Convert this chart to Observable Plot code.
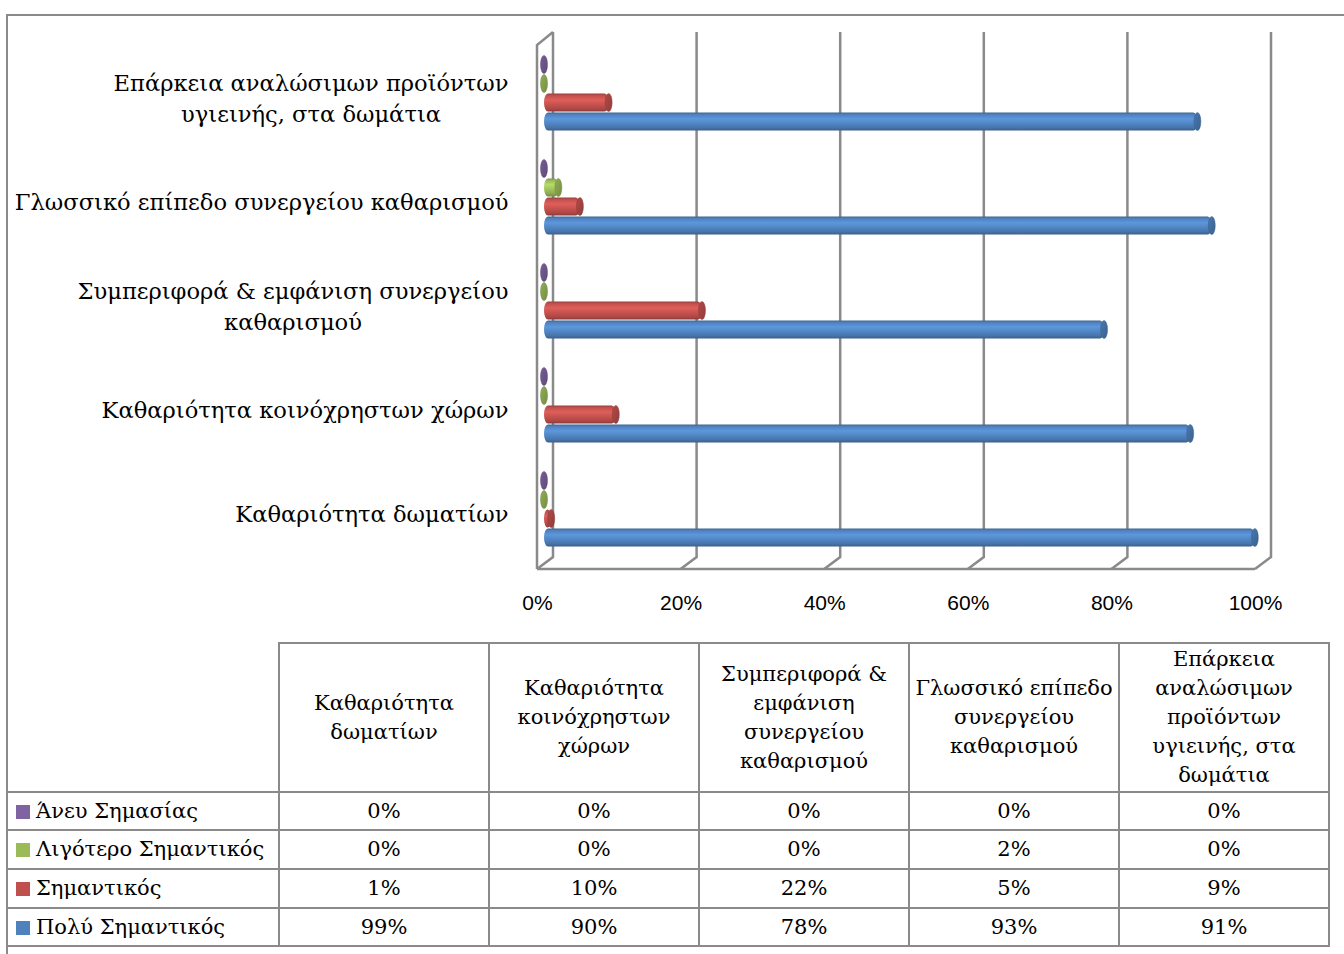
<!DOCTYPE html>
<html>
<head>
<meta charset="utf-8">
<script src="https://cdn.jsdelivr.net/npm/d3@7"></script>
<script src="https://cdn.jsdelivr.net/npm/@observablehq/plot@0.6"></script>
<style>
  html, body { margin: 0; padding: 0; background: #fff; width: 1344px; height: 954px; overflow: hidden; }
  #page { position: relative; width: 1344px; height: 954px; }
  #frame { position: absolute; left: 6px; top: 14px; width: 1400px; height: 1000px; border: 2px solid #8a8a8a; box-sizing: border-box; }
  #chart { position: absolute; left: 0; top: 0; }
  #table { position: absolute; left: 6px; top: 642px; border-collapse: collapse; table-layout: fixed;
           font-family: "DejaVu Serif", serif; font-size: 21px; color: #000; }
  #table td { border: 2px solid #8a8a8a; text-align: center; padding: 0; line-height: 29px; white-space: pre-line; }
  #table td.corner { border-top: none; }
  #table td.legend { text-align: left; padding-left: 8px; white-space: nowrap; }
  #table .key { display: inline-block; width: 14px; height: 14px; margin-right: 6px; vertical-align: -1px; }
  #table tr.head { height: 149px; }
</style>
</head>
<body>
<div id="page">
  <div id="frame"></div>
  <div id="chart"></div>
  <table id="table"><colgroup>
    <col style="width:272px"><col style="width:210px"><col style="width:210px"><col style="width:210px"><col style="width:210px"><col style="width:210px">
  </colgroup><tbody></tbody></table>
</div>
<script>
// Survey categories (table order, left to right)
const categories = [
  "Καθαριότητα δωματίων",
  "Καθαριότητα κοινόχρηστων χώρων",
  "Συμπεριφορά & εμφάνιση συνεργείου καθαρισμού",
  "Γλωσσικό επίπεδο συνεργείου καθαρισμού",
  "Επάρκεια αναλώσιμων προϊόντων υγιεινής, στα δωμάτια"
];
// Category labels as wrapped beside the bars
const axisLabels = [
  "Καθαριότητα δωματίων",
  "Καθαριότητα κοινόχρηστων χώρων",
  "Συμπεριφορά & εμφάνιση συνεργείου\nκαθαρισμού",
  "Γλωσσικό επίπεδο συνεργείου καθαρισμού",
  "Επάρκεια αναλώσιμων προϊόντων\nυγιεινής, στα δωμάτια"
];
// Category labels as wrapped in the table header
const headerLabels = [
  "Καθαριότητα\nδωματίων",
  "Καθαριότητα\nκοινόχρηστων\nχώρων",
  "Συμπεριφορά &\nεμφάνιση\nσυνεργείου\nκαθαρισμού",
  "Γλωσσικό επίπεδο\nσυνεργείου\nκαθαρισμού",
  "Επάρκεια\nαναλώσιμων\nπροϊόντων\nυγιεινής, στα\nδωμάτια"
];
const seriesNames = ["Άνευ Σημασίας", "Λιγότερο Σημαντικός", "Σημαντικός", "Πολύ Σημαντικός"];
const seriesColors = ["#8064A2", "#9BBB59", "#C0504D", "#4F81BD"];
// Percent of answers per category
const anevSimasias       = [0, 0, 0, 0, 0];
const ligoteroSimantikos = [0, 0, 0, 2, 0];
const simantikos         = [1, 10, 22, 5, 9];
const polySimantikos     = [99, 90, 78, 93, 91];
const xTicks = [0, 20, 40, 60, 80, 100];

const seriesValues = [anevSimasias, ligoteroSimantikos, simantikos, polySimantikos];

const W = 1344, H = 630;
const marginLeft = 544, marginRight = 82, marginTop = 39, marginBottom = 67;
const depthBack = 9, depthFront = 7;        // 3D offsets of back wall / front edge
const barH = 19;
const labelRight = 508;
const labelFont = "DejaVu Serif";
const labelSize = 22.6;
const rowHeights = [38, 39, 39, 38];

// measure wrapped labels so each block is centred and right-aligned to the axis
const ctx = document.createElement("canvas").getContext("2d");
ctx.font = `${labelSize}px "${labelFont}"`;
const xPx = d3.scaleLinear([0, 100], [marginLeft, W - marginRight]);
const labelRows = categories.map((c, i) => {
  const w = d3.max(axisLabels[i].split("\n"), s => ctx.measureText(s).width);
  return {category: c, label: axisLabels[i], x: xPx.invert(labelRight - w / 2)};
});

const bandStep = (H - marginTop - marginBottom) / categories.length;
const inset = (bandStep - barH) / 2;

const marks = [];

// back wall gridlines, floor diagonals, floor front edge and left wall
marks.push((index, {x}, values, dims) => {
  const top = dims.marginTop - 7;
  const backBottom = dims.height - dims.marginBottom - 6;
  const frontBottom = backBottom + 12;
  const g = d3.create("svg:g")
    .attr("fill", "none").attr("stroke", "#8a8a8a").attr("stroke-width", 2.5)
    .attr("stroke-linejoin", "miter");
  for (const t of xTicks) {
    g.append("path").attr("d", `M${x(t) + depthBack},${top}V${backBottom}L${x(t) - depthFront},${frontBottom}`);
  }
  g.append("path").attr("d", `M${x(0) - depthFront},${frontBottom}H${x(100) - depthFront}`);
  g.append("path").attr("d", `M${x(0) + depthBack},${top}L${x(0) - depthFront},${top + 13}V${frontBottom}`);
  return g.node();
});

seriesNames.forEach((name, i) => {
  const rows = categories.map((c, j) => ({category: c, value: seriesValues[i][j]}));
  const dy = (i - 1.5) * barH;
  marks.push(Plot.barX(rows, {
    y: "category", x1: 0, x2: "value", dy,
    insetTop: inset, insetBottom: inset, rx: 4, ry: barH / 2,
    fill: `url(#cyl${i})`
  }));
  marks.push(Plot.barX(rows, {
    y: "category", x1: "value", x2: "value", dy,
    insetLeft: -3.5, insetRight: -3.5, insetTop: inset, insetBottom: inset,
    rx: 3.5, ry: barH / 2,
    fill: `url(#cap${i})`, stroke: d3.color(seriesColors[i]).darker(0.9).formatHex(), strokeWidth: 0.8, strokeOpacity: 0.6
  }));
});

marks.push(Plot.text(labelRows, {
  y: "category", x: "x", text: "label",
  textAnchor: "middle", lineAnchor: "middle", lineHeight: 1.37, dy: 3,
  fontFamily: labelFont, fontSize: labelSize, fill: "#000"
}));

marks.push(Plot.axisX({
  ticks: xTicks, tickFormat: d => d + "%", tickSize: 0, tickPadding: 32, dx: -depthFront,
  fontSize: 21, fontFamily: "Liberation Sans", fill: "#000"
}));

const svg = Plot.plot({
  width: W, height: H,
  marginLeft, marginRight, marginTop, marginBottom,
  style: {background: "transparent", overflow: "visible"},
  x: {domain: [0, 100]},
  y: {domain: categories.slice().reverse(), padding: 0, axis: null},
  marks
});

// cylinder shading
const defs = d3.select(svg).insert("defs", ":first-child");
seriesColors.forEach((c, i) => {
  const base = d3.color(c);
  const stops = [
    [0, base.darker(0.7)], [0.12, base], [0.35, base.brighter(0.45)],
    [0.6, base.brighter(0.1)], [0.85, base.darker(0.3)], [1, base.darker(0.9)]
  ];
  const g = defs.append("linearGradient").attr("id", `cyl${i}`).attr("x1", 0).attr("y1", 0).attr("x2", 0).attr("y2", 1);
  for (const [o, col] of stops) g.append("stop").attr("offset", o).attr("stop-color", col.formatHex());
  const cap = defs.append("linearGradient").attr("id", `cap${i}`).attr("x1", 0).attr("y1", 0).attr("x2", 1).attr("y2", 1);
  cap.append("stop").attr("offset", 0).attr("stop-color", base.darker(0.2).formatHex());
  cap.append("stop").attr("offset", 1).attr("stop-color", base.darker(0.8).formatHex());
});

document.getElementById("chart").appendChild(svg);

// data table with legend keys
const tbody = document.querySelector("#table tbody");
const head = tbody.insertRow();
head.className = "head";
head.insertCell().className = "corner";
headerLabels.forEach(h => { head.insertCell().textContent = h; });
seriesNames.forEach((name, i) => {
  const r = tbody.insertRow();
  r.style.height = rowHeights[i] + "px";
  const c = r.insertCell();
  c.className = "legend";
  const key = document.createElement("span");
  key.className = "key";
  key.style.background = seriesColors[i];
  c.appendChild(key);
  c.appendChild(document.createTextNode(name));
  seriesValues[i].forEach(v => { r.insertCell().textContent = v + "%"; });
});
</script>
</body>
</html>
